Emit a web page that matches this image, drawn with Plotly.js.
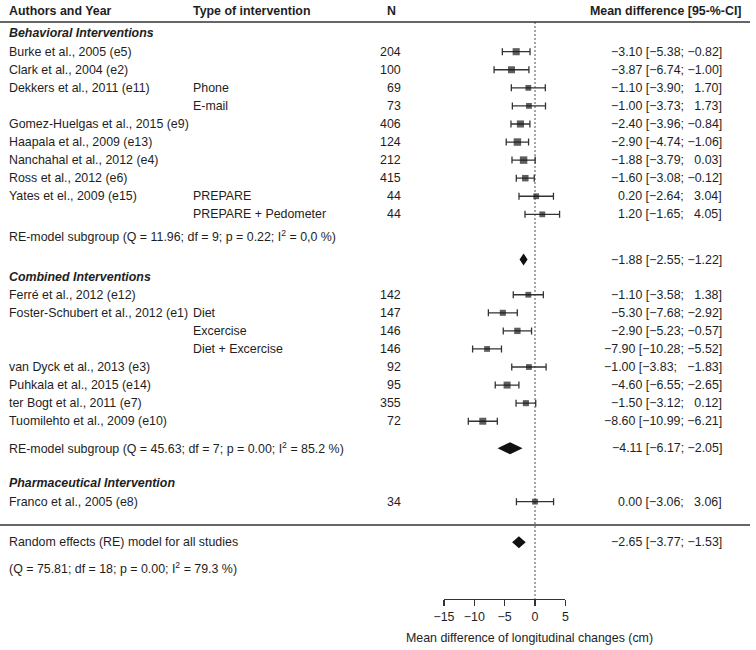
<!DOCTYPE html>
<html><head><meta charset="utf-8">
<script src="https://cdn.plot.ly/plotly-3.0.1.min.js"></script>
<style>html,body{margin:0;padding:0;background:#fff}</style>
</head><body><div id="chart" style="width:756px;height:650px"></div>
<script>
// ---------- data ----------
const authors = ["Burke et al., 2005 (e5)","Clark et al., 2004 (e2)","Dekkers et al., 2011 (e11)","","Gomez-Huelgas et al., 2015 (e9)","Haapala et al., 2009 (e13)","Nanchahal et al., 2012 (e4)","Ross et al., 2012 (e6)","Yates et el., 2009 (e15)","",
  "Ferré et al., 2012 (e12)","Foster-Schubert et al., 2012 (e1)","","","van Dyck et al., 2013 (e3)","Puhkala et al., 2015 (e14)","ter Bogt et al., 2011 (e7)","Tuomilehto et al., 2009 (e10)",
  "Franco et al., 2005 (e8)"];
const interventionTypes = ["","","Phone","E-mail","","","","","PREPARE","PREPARE + Pedometer",
  "","Diet","Excercise","Diet + Excercise","","","","",
  ""];
const groups = ["B","B","B","B","B","B","B","B","B","B","C","C","C","C","C","C","C","C","P"];
const nValues = [204,100,69,73,406,124,212,415,44,44, 142,147,146,146,92,95,355,72, 34];
const meanDiff = [-3.10,-3.87,-1.10,-1.00,-2.40,-2.90,-1.88,-1.60,0.20,1.20, -1.10,-5.30,-2.90,-7.90,-1.00,-4.60,-1.50,-8.60, 0.00];
const ciLower = [-5.38,-6.74,-3.90,-3.73,-3.96,-4.74,-3.79,-3.08,-2.64,-1.65, -3.58,-7.68,-5.23,-10.28,-3.83,-6.55,-3.12,-10.99, -3.06];
const ciUpper = [-0.82,-1.00,1.70,1.73,-0.84,-1.06,0.03,-0.12,3.04,4.05, 1.38,-2.92,-0.57,-5.52,1.83,-2.65,0.12,-6.21, 3.06];
const weights = [6.0,5.8,4.0,4.0,6.0,6.6,6.6,5.0,4.0,4.0, 4.0,4.4,4.8,4.0,4.0,5.8,4.4,5.8, 4.0];
const ciText = ["\u22123.10 [\u22125.38; \u22120.82]","\u22123.87 [\u22126.74; \u22121.00]","\u22121.10 [\u22123.90; \u00a0\u00a01.70]","\u22121.00 [\u22123.73; \u00a0\u00a01.73]","\u22122.40 [\u22123.96; \u22120.84]","\u22122.90 [\u22124.74; \u22121.06]","\u22121.88 [\u22123.79; \u00a0\u00a00.03]","\u22121.60 [\u22123.08; \u22120.12]","0.20 [\u22122.64; \u00a0\u00a03.04]","1.20 [\u22121.65; \u00a0\u00a04.05]",
  "\u22121.10 [\u22123.58; \u00a0\u00a01.38]","\u22125.30 [\u22127.68; \u22122.92]","\u22122.90 [\u22125.23; \u22120.57]","\u22127.90 [\u221210.28; \u22125.52]","\u22121.00 [\u22123.83; \u00a0\u00a0\u22121.83]","\u22124.60 [\u22126.55; \u22122.65]","\u22121.50 [\u22123.12; \u00a0\u00a00.12]","\u22128.60 [\u221210.99; \u22126.21]",
  "0.00 [\u22123.06; \u00a0\u00a03.06]"];
const groupTitles = {B:"Behavioral Interventions", C:"Combined Interventions", P:"Pharmaceutical Intervention"};
const pooledEst = [-1.88, -4.11, -2.65];
const pooledLo = [-2.55, -6.17, -3.77];
const pooledHi = [-1.22, -2.05, -1.53];
const pooledText = ["\u22121.88 [\u22122.55; \u22121.22]","\u22124.11 [\u22126.17; \u22122.05]","\u22122.65 [\u22123.77; \u22121.53]"];
const pooledLabels = ["RE-model subgroup (Q = 11.96; df = 9; p = 0.22; I<sup>2</sup> = 0,0 %)",
  "RE-model subgroup (Q = 45.63; df = 7; p = 0.00; I<sup>2</sup> = 85.2 %)",
  "Random effects (RE) model for all studies"];
const overallStats = "(Q = 75.81; df = 18; p = 0.00; I<sup>2</sup> = 79.3 %)";
const headers = ["Authors and Year","Type of intervention","N","Mean difference [95-%-CI]"];
const xTicks = [-15,-10,-5,0,5];
const xTitle = "Mean difference of longitudinal changes (cm)";

// ---------- layout helpers ----------
const W = 756, H = 650;
const ROW_PX = 18.07, ROW0_PX = 33.63;           // pixel of row 0
const rowTop = -ROW0_PX/ROW_PX, rowBottom = (H-ROW0_PX)/ROW_PX;
const pxRow = p => (p-ROW0_PX)/ROW_PX;
const FONT = "Liberation Sans, Arial, sans-serif";
const FS = 12.4, TXT = "#1e1e1e";
const groupStart = {B:1, C:14.45, P:25.9};
const groupHeaderRow = {B:-0.05, C:13.45, P:24.88};
const pooledRowText = [11.2, 22.95, 28.15];
const pooledRowDiamond = [12.5, 22.95, 28.15];
const overallStatsRow = 29.55;
const headerRow = pxRow(10.5), headerLineRow = pxRow(22), bottomLineRow = pxRow(525), axisRow = pxRow(599);

const counters = {B:0, C:0, P:0};
const rows = groups.map(g => groupStart[g] + (counters[g]++));

const px = x => x / W;
const ann = [];
function addText(text, xpx, row, anchor, extra) {
  ann.push(Object.assign({text, x: px(xpx), xref:"paper", y: row, yref:"y", xanchor: anchor, yanchor:"middle",
    showarrow:false, font:{family:FONT, size:FS, color:TXT}}, extra||{}));
}
const COL_AUTH = 7, COL_TYPE = 190.5, COL_N = 403, COL_CI = 723.5;
addText("<b>"+headers[0]+"</b>", COL_AUTH, headerRow, "left");
addText("<b>"+headers[1]+"</b>", COL_TYPE, headerRow, "left");
addText("<b>"+headers[2]+"</b>", 385, headerRow, "left");
addText("<b>"+headers[3]+"</b>", 742.5, headerRow, "right");
Object.keys(groupTitles).forEach(g => addText("<b><i>"+groupTitles[g]+"</i></b>", COL_AUTH, groupHeaderRow[g], "left"));
rows.forEach((r,i) => {
  if (authors[i]) addText(authors[i], COL_AUTH, r, "left");
  if (interventionTypes[i]) addText(interventionTypes[i], COL_TYPE, r, "left");
  addText(String(nValues[i]), COL_N, r, "right");
  addText(ciText[i], COL_CI, r, "right");
});
pooledLabels.forEach((t,k) => {
  addText(t, COL_AUTH, pooledRowText[k], "left");
  addText(pooledText[k], COL_CI, pooledRowDiamond[k], "right");
});
addText(overallStats, COL_AUTH, overallStatsRow, "left");
ann.push({text:xTitle, x:px(529), xref:"paper", y:1-638/H, yref:"paper", xanchor:"center", yanchor:"middle",
  showarrow:false, font:{family:FONT, size:FS, color:TXT}});

// ---------- traces ----------
const studyTrace = {
  type:"scatter", mode:"markers", x: meanDiff, y: rows, xaxis:"x", yaxis:"y",
  marker:{symbol:"square", color:"#1a1a1a", size: weights.map(w => 2.9*Math.sqrt(w)), line:{width:0}},
  error_x:{type:"data", symmetric:false, array: ciUpper.map((u,i)=>u-meanDiff[i]), arrayminus: ciLower.map((l,i)=>meanDiff[i]-l),
    color:"#333", thickness:1.3, width:3.5},
  hoverinfo:"skip", cliponaxis:false
};
const DH = 6/ROW_PX;
const diamonds = pooledEst.map((e,k) => ({
  type:"scatter", mode:"lines", fill:"toself", fillcolor:"#111", line:{width:0, color:"#111"},
  x:[pooledLo[k], e, pooledHi[k], e, pooledLo[k]],
  y:[pooledRowDiamond[k], pooledRowDiamond[k]-DH, pooledRowDiamond[k], pooledRowDiamond[k]+DH, pooledRowDiamond[k]],
  xaxis:"x", yaxis:"y", hoverinfo:"skip"
}));

const shapes = [
  {type:"line", xref:"paper", yref:"y", x0:0, x1:px(750), y0:headerLineRow, y1:headerLineRow, line:{color:"#333", width:1.3}},
  {type:"line", xref:"paper", yref:"y", x0:0, x1:px(750), y0:bottomLineRow, y1:bottomLineRow, line:{color:"#333", width:1.3}},
  {type:"line", xref:"x", yref:"y", x0:0, x1:0, y0:headerLineRow, y1:axisRow, line:{color:"#777", width:1.3, dash:"2px,2px"}, layer:"below"}
];

const layout = {
  width:W, height:H, margin:{l:0,r:0,t:0,b:0,pad:0}, paper_bgcolor:"#fff", plot_bgcolor:"rgba(0,0,0,0)", showlegend:false,
  font:{family:FONT, size:FS, color:TXT},
  xaxis:{domain:[(535-15*6.07)/W, (535+5*6.07)/W], range:[-15,5], anchor:"free", position:1-599/H,
    showline:true, linecolor:"#333", linewidth:1.2, ticks:"outside", ticklen:6, tickcolor:"#333", tickwidth:1.2,
    tickvals:xTicks, ticktext:xTicks.map(v => v<0 ? "\u2212"+Math.abs(v) : String(v)),
    showgrid:false, zeroline:false, tickfont:{family:FONT, size:FS, color:TXT}, fixedrange:true},
  yaxis:{domain:[0,1], range:[rowBottom, rowTop], visible:false, showgrid:false, zeroline:false, fixedrange:true},
  shapes, annotations: ann
};
Plotly.newPlot("chart", [studyTrace, ...diamonds], layout, {staticPlot:true, displayModeBar:false});
</script>
</body></html>
